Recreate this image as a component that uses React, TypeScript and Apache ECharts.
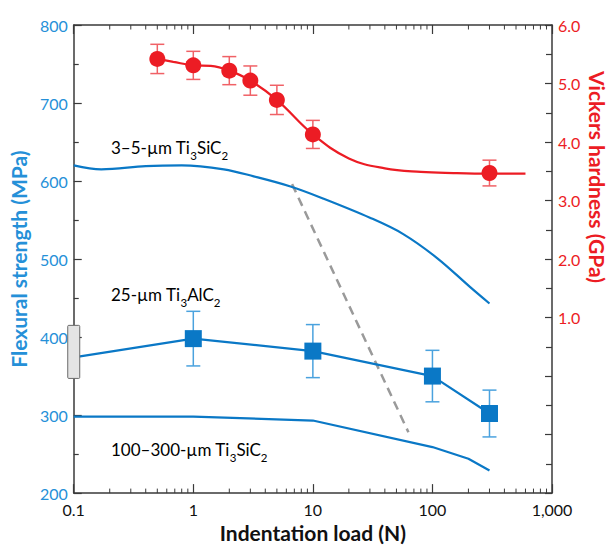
import React, { useEffect, useRef } from 'react';
import * as echarts from 'echarts';

// Vickers hardness (right axis, GPa)
const hardnessLoads = [0.5, 1, 2, 3, 5, 10, 300];
const hardnessValues = [5.42, 5.31, 5.22, 5.05, 4.72, 4.13, 3.47];
const hardnessErrors = [0.25, 0.24, 0.24, 0.25, 0.25, 0.24, 0.22];
const hardnessFitLoads = [0.5, 0.68, 1, 1.4, 2, 3, 5, 10, 20, 40, 80, 150, 300, 600];
const hardnessFitValues = [5.42, 5.37, 5.31, 5.3, 5.22, 5.05, 4.72, 4.13, 3.72, 3.55, 3.49, 3.47, 3.46, 3.46];

// Flexural strength (left axis, MPa)
const fineLoads = [0.1, 0.17, 0.4, 0.8, 1.8, 3.2, 6.5, 12, 30, 57, 110, 207, 300];
const fineStrength = [620, 615, 619, 620, 615, 606, 593, 578, 553, 532, 501, 464, 443];

const alLoads = [1, 10, 100, 300];
const alStrength = [398, 382, 350, 302];
const alErrors = [35, 34, 33, 30];
const alLineLoads = [0.1, 1, 10, 100, 300];
const alLineStrength = [374, 398, 382, 350, 302];

const coarseLoads = [0.1, 1, 10, 100, 200, 300];
const coarseStrength = [298, 298, 293, 259, 244, 229];

const transitionLoads = [6.7, 63];
const transitionStrength = [596, 278];

const refBoxLoad = 0.1;
const refBoxRange = [347, 415];

const loadTickValues = [0.1, 1, 10, 100, 1000];
const loadTickLabels = ['0.1', '1', '10', '100', '1,000'];
const strengthRange = [200, 800];

const BLUE = '#0a78c6';
const BLUE_TEXT = '#2590d8';
const BLUE_ERR = '#4aa2de';
const RED = '#ec1c24';
const RED_ERR = '#f06166';
const AXIS = '#3a3a3a';
const FONT = 'Lato, "Open Sans", sans-serif';

// minor log ticks: 2..9 within each decade
const minorLoads: number[] = [];
[0.1, 1, 10, 100].forEach((d) => {
  for (let k = 2; k <= 9; k++) minorLoads.push(+(d * k).toPrecision(3));
});

function errorBarSeries(xs: number[], ys: number[], errs: number[], color: string, yAxisIndex: number, capHalf: number) {
  return {
    type: 'custom',
    yAxisIndex,
    z: 3,
    encode: { x: 0, y: [1, 2] },
    data: xs.map((x, i) => [x, ys[i] - errs[i], ys[i] + errs[i]]),
    renderItem: (_p: any, api: any) => {
      const x = api.value(0);
      const lo = api.coord([x, api.value(1)]);
      const hi = api.coord([x, api.value(2)]);
      const st = { stroke: color, lineWidth: 1.5, fill: 'none' };
      return {
        type: 'group',
        children: [
          { type: 'line', shape: { x1: hi[0], y1: hi[1], x2: lo[0], y2: lo[1] }, style: st },
          { type: 'line', shape: { x1: hi[0] - capHalf, y1: hi[1], x2: hi[0] + capHalf, y2: hi[1] }, style: st },
          { type: 'line', shape: { x1: lo[0] - capHalf, y1: lo[1], x2: lo[0] + capHalf, y2: lo[1] }, style: st },
        ],
      };
    },
  };
}

function labelText(parts: [string, boolean][]) {
  return parts.map(([t, sub]) => (sub ? `{s|${t}}` : `{a|${t}}`)).join('');
}

export default function App() {
  const ref = useRef<HTMLDivElement>(null);

  useEffect(() => {
    if (!ref.current) return;
    const chart = echarts.init(ref.current, undefined, { renderer: 'svg' });

    const rich = {
      a: { fontSize: 17, fontFamily: FONT, color: BLUE_TEXT, lineHeight: 22, verticalAlign: 'top' },
      s: { fontSize: 11.5, fontFamily: FONT, color: BLUE_TEXT, lineHeight: 9, verticalAlign: 'bottom' },
    };

    const xBase = {
      type: 'log',
      logBase: 10,
      min: 0.1,
      max: 1000,
      gridIndex: 0,
      splitLine: { show: false },
    };

    const option: any = {
      animation: false,
      backgroundColor: '#ffffff',
      grid: { left: 73, right: 57, top: 25, bottom: 46, containLabel: false },
      xAxis: [
        {
          ...xBase,
          position: 'bottom',
          name: 'Indentation load (N)',
          nameLocation: 'middle',
          nameGap: 22,
          nameTextStyle: { fontFamily: FONT, fontSize: 21, fontWeight: 'bold', color: '#111' },
          axisLine: { show: true, onZero: false, lineStyle: { color: AXIS, width: 1.5 } },
          axisTick: { show: true, inside: true, length: 9, lineStyle: { color: AXIS, width: 1.2 } },
          axisLabel: {
            show: true,
            margin: 8,
            fontFamily: FONT,
            fontSize: 16,
            color: '#111',
            formatter: (v: number) => {
              const i = loadTickValues.findIndex((t) => Math.abs(Math.log10(t) - Math.log10(v)) < 1e-6);
              return i >= 0 ? loadTickLabels[i] : '';
            },
          },
        },
        {
          ...xBase,
          position: 'top',
          axisLine: { show: true, onZero: false, lineStyle: { color: AXIS, width: 1.5 } },
          axisLabel: { show: false },
          axisTick: { show: true, inside: true, length: 9, lineStyle: { color: AXIS, width: 1.2 } },
        },
      ],
      yAxis: [
        {
          type: 'value',
          position: 'left',
          min: strengthRange[0],
          max: strengthRange[1],
          interval: 100,
          name: 'Flexural strength (MPa)',
          nameLocation: 'middle',
          nameRotate: 90,
          nameGap: 40,
          nameTextStyle: { fontFamily: FONT, fontSize: 21, fontWeight: 'bold', color: BLUE_TEXT },
          splitLine: { show: false },
          axisLine: { show: true, onZero: false, lineStyle: { color: AXIS, width: 1.5 } },
          axisTick: { show: true, inside: true, length: 8, lineStyle: { color: AXIS, width: 1.2 } },
          minorTick: { show: true, splitNumber: 2, length: 5, lineStyle: { color: AXIS, width: 1.2 } },
          axisLabel: { margin: 6, fontFamily: FONT, fontSize: 16, color: BLUE_TEXT },
        },
        {
          type: 'value',
          position: 'right',
          min: -2,
          max: 6,
          interval: 1,
          splitLine: { show: false },
          axisLine: { show: true, onZero: false, lineStyle: { color: AXIS, width: 1.5 } },
          axisTick: { show: true, inside: true, length: 7, lineStyle: { color: AXIS, width: 1.2 } },
          minorTick: { show: true, splitNumber: 2, length: 6, lineStyle: { color: AXIS, width: 1.2 } },
          axisLabel: {
            margin: 6,
            fontFamily: FONT,
            fontSize: 16,
            color: RED,
            formatter: (v: number) => (v >= 1 ? v.toFixed(1) : ''),
          },
        },
      ],
      graphic: [
        {
          type: 'text',
          x: 597,
          y: 177,
          rotation: -Math.PI / 2,
          style: {
            text: 'Vickers hardness (GPa)',
            fontFamily: FONT,
            fontSize: 21,
            fontWeight: 'bold',
            fill: RED,
            align: 'center',
            verticalAlign: 'middle',
          },
        },
        {
          type: 'text',
          x: 111,
          y: 139,
          style: { text: labelText([['3–5-µm Ti', false], ['3', true], ['SiC', false], ['2', true]]), rich },
        },
        {
          type: 'text',
          x: 111,
          y: 286,
          style: { text: labelText([['25-µm Ti', false], ['3', true], ['AlC', false], ['2', true]]), rich },
        },
        {
          type: 'text',
          x: 111,
          y: 441,
          style: { text: labelText([['100–300-µm Ti', false], ['3', true], ['SiC', false], ['2', true]]), rich },
        },
      ],
      series: [
        {
          // minor log ticks on the bottom and top frame lines
          type: 'custom',
          yAxisIndex: 0,
          clip: false,
          silent: true,
          z: 5,
          encode: { x: 0 },
          data: minorLoads.map((x) => [x]),
          renderItem: (_p: any, api: any) => {
            const b = api.coord([api.value(0), strengthRange[0]]);
            const t = api.coord([api.value(0), strengthRange[1]]);
            const st = { stroke: AXIS, lineWidth: 1 };
            return {
              type: 'group',
              children: [
                { type: 'line', shape: { x1: b[0], y1: b[1], x2: b[0], y2: b[1] - 4.5 }, style: st },
                { type: 'line', shape: { x1: t[0], y1: t[1], x2: t[0], y2: t[1] + 4.5 }, style: st },
              ],
            };
          },
        },
        {
          type: 'line',
          yAxisIndex: 0,
          data: transitionLoads.map((x, i) => [x, transitionStrength[i]]),
          showSymbol: false,
          lineStyle: { color: '#9a9a9a', width: 2.5, type: [9, 6] },
          z: 1,
        },
        {
          type: 'line',
          yAxisIndex: 0,
          data: fineLoads.map((x, i) => [x, fineStrength[i]]),
          smooth: 0.35,
          showSymbol: false,
          lineStyle: { color: BLUE, width: 2.2 },
          z: 2,
        },
        {
          type: 'line',
          yAxisIndex: 0,
          data: coarseLoads.map((x, i) => [x, coarseStrength[i]]),
          showSymbol: false,
          lineStyle: { color: BLUE, width: 2.2 },
          z: 2,
        },
        {
          type: 'line',
          yAxisIndex: 0,
          data: alLineLoads.map((x, i) => [x, alLineStrength[i]]),
          showSymbol: false,
          lineStyle: { color: BLUE, width: 2.2 },
          z: 2,
        },
        errorBarSeries(alLoads, alStrength, alErrors, BLUE_ERR, 0, 7),
        {
          type: 'scatter',
          yAxisIndex: 0,
          data: alLoads.map((x, i) => [x, alStrength[i]]),
          symbol: 'rect',
          symbolSize: 17,
          itemStyle: { color: BLUE, opacity: 1 },
          z: 4,
        },
        {
          type: 'line',
          yAxisIndex: 1,
          data: hardnessFitLoads.map((x, i) => [x, hardnessFitValues[i]]),
          smooth: 0.4,
          showSymbol: false,
          lineStyle: { color: RED, width: 2.2 },
          z: 2,
        },
        errorBarSeries(hardnessLoads, hardnessValues, hardnessErrors, RED_ERR, 1, 7),
        {
          type: 'scatter',
          yAxisIndex: 1,
          data: hardnessLoads.map((x, i) => [x, hardnessValues[i]]),
          symbol: 'circle',
          symbolSize: 16,
          itemStyle: { color: RED, opacity: 1 },
          z: 4,
        },
        {
          type: 'custom',
          yAxisIndex: 0,
          clip: false,
          z: 6,
          encode: { x: 0, y: [1, 2] },
          data: [[refBoxLoad, refBoxRange[0], refBoxRange[1]]],
          renderItem: (_p: any, api: any) => {
            const lo = api.coord([api.value(0), api.value(1)]);
            const hi = api.coord([api.value(0), api.value(2)]);
            return {
              type: 'rect',
              shape: { x: lo[0] - 6, y: hi[1], width: 12, height: lo[1] - hi[1], r: 1 },
              style: { fill: '#e4e4e4', stroke: '#6a6a6a', lineWidth: 1 },
            };
          },
        },
      ],
    };

    chart.setOption(option);
    return () => chart.dispose();
  }, []);

  return (
    <div
      ref={ref}
      style={{ position: 'absolute', left: 0, top: 0, width: 609, height: 548, background: '#fff' }}
    />
  );
}
